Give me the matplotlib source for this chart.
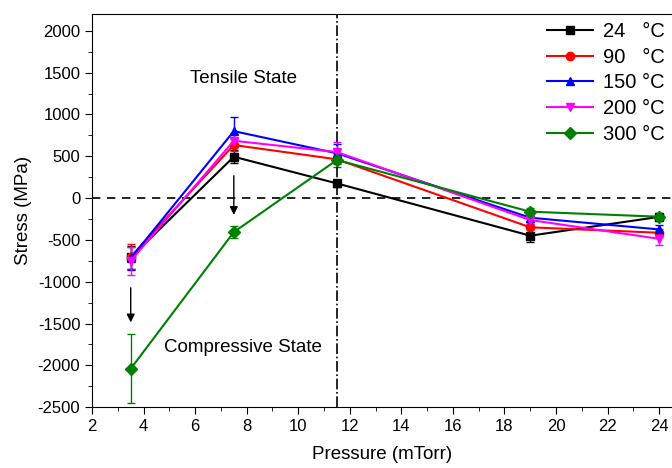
import matplotlib.pyplot as plt
import numpy as np

plt.rcParams['font.family'] = ['Liberation Sans', 'DejaVu Sans']
plt.rcParams['axes.unicode_minus'] = False

# Dados
pressao = [3.5, 7.5, 11.5, 19, 24]
rotulos = ['24   °C', '90   °C', '150 °C', '200 °C', '300 °C']
cores = ['black', 'red', 'blue', 'magenta', 'green']
marcadores = ['s', 'o', '^', 'v', 'D']

tensao_24 = [-710, 494, 175, -450, -225]
tensao_90 = [-700, 634, 463, -350, -415]
tensao_150 = [-720, 800, 535, -235, -375]
tensao_200 = [-750, 685, 550, -263, -487]
tensao_300 = [-2040, -407, 455, -163, -223]

erro_24 = [140, 80, 40, 75, 40]
erro_90 = [150, 70, 60, 60, 50]
erro_150 = [140, 165, 110, 50, 50]
erro_200 = [170, 80, 120, 50, 80]
erro_300 = [410, 70, 80, 40, 40]

tensoes = [tensao_24, tensao_90, tensao_150, tensao_200, tensao_300]
erros = [erro_24, erro_90, erro_150, erro_200, erro_300]

fig = plt.figure(figsize=(6.72, 4.68), dpi=100)
ax = fig.add_axes([0.137, 0.130, 0.863, 0.840])

linhas = []
for t, e, c, m, r in zip(tensoes, erros, cores, marcadores, rotulos):
    cont = ax.errorbar(pressao, t, yerr=e, color=c, marker=m, markersize=6,
                       linewidth=1.5, capsize=3, elinewidth=1, label=r)
    linhas.append(cont[0])

# Linhas de referência
ax.axhline(0, color='black', linestyle=(0, (5, 4)), linewidth=1.2)
ax.axvline(11.5, color='black', linestyle='-.', linewidth=1.2)

# Setas
ax.annotate('', xy=(3.5, -1520), xytext=(3.5, -1040),
            arrowprops=dict(arrowstyle='-|>', color='black', lw=1, mutation_scale=12))
ax.annotate('', xy=(7.5, -235), xytext=(7.5, 300),
            arrowprops=dict(arrowstyle='-|>', color='black', lw=1, mutation_scale=12))

ax.text(7.88, 1435, 'Tensile State', ha='center', va='center', fontsize=13.5)
ax.text(7.86, -1782, 'Compressive State', ha='center', va='center', fontsize=13.5)

ax.set_xlim(2, 24.5)
ax.set_ylim(-2500, 2200)
ax.set_xticks(np.arange(2, 25, 2))
ax.set_xticks(np.arange(3, 25, 2), minor=True)
ax.set_yticks(np.arange(-2500, 2001, 500))
ax.set_yticks(np.arange(-2250, 2001, 500), minor=True)
ax.tick_params(which='major', length=5, labelsize=12)
ax.tick_params(which='minor', length=3)
ax.spines['right'].set_visible(False)

ax.set_xlabel('Pressure (mTorr)', fontsize=13.5, labelpad=9)
ax.set_ylabel('Stress (MPa)', fontsize=13.5)

ax.legend(linhas, rotulos, loc='upper right', bbox_to_anchor=(0.995, 0.99),
          fontsize=14.5, frameon=False, handlelength=2.3, borderaxespad=0,
          borderpad=0.2, labelspacing=0.33, handletextpad=0.5)

plt.savefig('out.png', dpi=100)
